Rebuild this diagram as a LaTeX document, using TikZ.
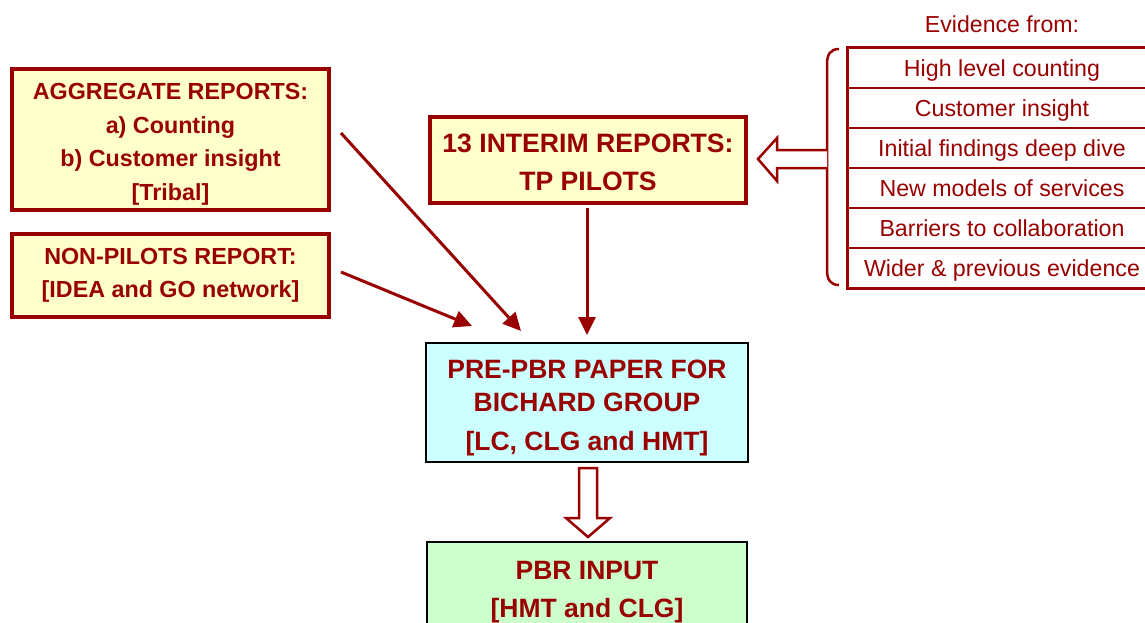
\documentclass[tikz,border=0pt]{standalone}
\usepackage{fontspec}
\setmainfont{Liberation Sans}
\usetikzlibrary{arrows.meta}
\definecolor{dred}{HTML}{990000}
\definecolor{ylw}{HTML}{FFFFCC}
\definecolor{cyn}{HTML}{CCFFFF}
\definecolor{grn}{HTML}{CCFFCC}
\newcommand{\topup}[1]{\rule{0pt}{#1}}
\begin{document}
\begin{tikzpicture}[x=1pt,y=-1pt,
  ybox/.style={draw=dred, line width=3.2pt, fill=ylw, text=dred, align=center, inner sep=0pt,
    font=\fontsize{23.3}{33.5}\selectfont\bfseries},
  bbox/.style={draw=black, line width=2.5pt, text=dred, align=center, inner sep=0pt,
    font=\fontsize{26.5}{33}\selectfont\bfseries},
  rowbox/.style={draw=dred, line width=1.5pt, minimum width=308pt, minimum height=40pt, inner sep=0pt,
    text height=16.5pt, text depth=0pt, text=dred, font=\fontsize{23.2}{26}\selectfont},
  conn/.style={draw=dred, line width=3pt, -{Triangle[length=18pt,width=17pt]}},
  hollow/.style={draw=dred, line width=2.5pt, fill=white, line join=miter}
]
\clip (0,0) rectangle (1145,623);
\fill[white] (0,0) rectangle (1145,623);

% left boxes
\node[ybox, minimum width=317pt, minimum height=141pt] (agg) at (170.5,139.5)
  {\topup{26pt}AGGREGATE REPORTS:\\a) Counting\\b) Customer insight\\{[Tribal]}};
\node[ybox, minimum width=317pt, minimum height=83pt] (non) at (170.5,275.5)
  {NON-PILOTS REPORT:\\{[IDEA and GO network]}};

% interim
\node[ybox, minimum width=316pt, minimum height=86pt, font=\fontsize{26.6}{38}\selectfont\bfseries] (int) at (588,160)
  {\topup{23.5pt}13 INTERIM REPORTS:\\TP PILOTS};

% pre-pbr
\node[bbox, fill=cyn, minimum width=322pt, minimum height=119pt] (pre) at (587,402.5)
  {\topup{29.5pt}PRE-PBR PAPER FOR\\BICHARD GROUP\\[6pt]{[LC, CLG and HMT]}};

% pbr input
\node[bbox, fill=grn, minimum width=320pt, minimum height=92pt, font=\fontsize{26.5}{38}\selectfont\bfseries] (pbr) at (587,588)
  {\topup{25.5pt}PBR INPUT\\{[HMT and CLG]}};

% evidence table
\node[text=dred, font=\fontsize{23.1}{26}\selectfont] (evt) at (1002,24) {Evidence from:};
\node[rowbox] (r1) at (1002,68) {High level counting};
\node[rowbox] (r2) at (1002,108) {Customer insight};
\node[rowbox] (r3) at (1002,148) {Initial findings deep dive};
\node[rowbox] (r4) at (1002,188) {New models of services};
\node[rowbox] (r5) at (1002,228) {Barriers to collaboration};
\node[rowbox] (r6) at (1002,268) {Wider \& previous evidence};
\draw[dred, line width=3pt] (r1.north east) -- (r1.north west) -- (r6.south west) -- (r6.south east);

% brace
\draw[dred, line width=2.5pt] (839,49) .. controls (830,49) and (827,55) .. (827,64) -- (827,270)
  .. controls (827,279) and (830,285) .. (839,285);

% hollow arrow left
\draw[hollow] (827,150) -- (777,150) -- (777,138) -- (758,159) -- (777,181) -- (777,168) -- (827,168);

% hollow arrow down
\draw[hollow] (579,468) -- (597,468) -- (597,518) -- (610,518) -- (588,537) -- (566,518) -- (579,518) -- cycle;

% connectors
\coordinate (a1) at (341,133);
\coordinate (a2) at (521,331);
\coordinate (n1) at (341,272);
\coordinate (n2) at (472,326);
\coordinate (i1) at (587,208);
\coordinate (i2) at (587,335);
\draw[conn] (a1) -- (a2);
\draw[conn] (n1) -- (n2);
\draw[conn] (i1) -- (i2);
\end{tikzpicture}
\end{document}
